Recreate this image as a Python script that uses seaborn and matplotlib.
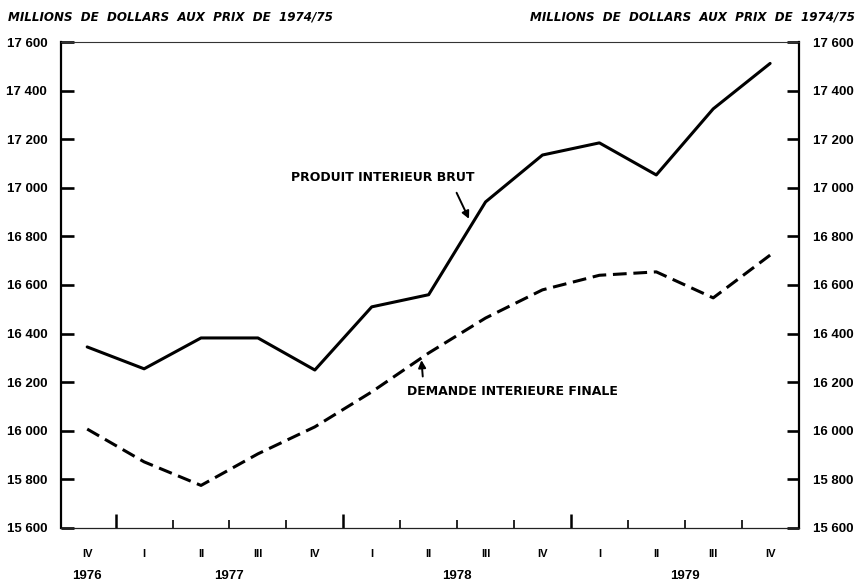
import numpy as np
import pandas as pd
import matplotlib
matplotlib.use('Agg')
import matplotlib.pyplot as plt
import seaborn as sns

# quarterly data, millions of 1974/75 dollars
quarters = ['IV', 'I', 'II', 'III', 'IV', 'I', 'II', 'III', 'IV', 'I', 'II', 'III', 'IV']
years = ['1976', '1977', '1978', '1979']
year_pos = [0, 2.5, 6.5, 10.5]
pib = [16345, 16255, 16382, 16382, 16250, 16510, 16560, 16942, 17135, 17185, 17053, 17325, 17512]
dif = [16007, 15872, 15775, 15905, 16016, 16160, 16320, 16464, 16580, 16640, 16654, 16547, 16723]
unit = 'MILLIONS  DE  DOLLARS  AUX  PRIX  DE  1974/75'

sns.set_style('white')
plt.rcParams['font.family'] = ['DejaVu Sans']
plt.rcParams['text.color'] = 'black'
plt.rcParams['xtick.color'] = 'black'
plt.rcParams['ytick.color'] = 'black'
narrow = ['Liberation Sans', 'DejaVu Sans']

df = pd.DataFrame({
    'x': list(range(len(quarters))) * 2,
    'val': pib + dif,
    'serie': ['PIB'] * len(pib) + ['DIF'] * len(dif),
})

fig = plt.figure(figsize=(8.63, 5.84), dpi=100)
ax = fig.add_axes([0.0707, 0.096, 0.8553, 0.832])

sns.lineplot(data=df, x='x', y='val', style='serie', color='black', linewidth=2.2,
             dashes={'PIB': '', 'DIF': (4.5, 2.2)}, legend=False, ax=ax)

ax.set_xlim(-0.46, 12.51)
ax.set_ylim(15600, 17600)
ax.set_xlabel('')
ax.set_ylabel('')

# y axis both sides
yt = list(range(15600, 17601, 200))
ax.set_yticks(yt)
ax.set_yticklabels([f'{v:,}'.replace(',', ' ') for v in yt])
ax.tick_params(axis='y', direction='in', length=9, width=1.9, left=True, right=True,
               labelleft=True, labelright=True, pad=10, labelsize=9.5, colors='black')
for lab in ax.get_yticklabels():
    lab.set_fontweight('bold')
    lab.set_family(narrow)

for s in ['left', 'right']:
    ax.spines[s].set_linewidth(1.6)
    ax.spines[s].set_color('black')
ax.spines['top'].set_linewidth(0.8)
ax.spines['top'].set_color('#333333')
ax.spines['bottom'].set_linewidth(0.9)
ax.spines['bottom'].set_color('#222222')

# x axis: year boundaries (long) + quarter separators (short)
ax.set_xticks([0.5, 4.5, 8.5])
ax.set_xticklabels([])
ax.set_xticks(np.arange(0.5, 12, 1), minor=True)
ax.tick_params(axis='x', which='major', direction='in', length=10, width=1.8, bottom=True, top=False)
ax.tick_params(axis='x', which='minor', direction='in', length=5.5, width=1.2, bottom=True, top=False)

qax = ax.secondary_xaxis('bottom')
qax.set_xticks(range(len(quarters)))
qax.set_xticklabels(quarters, fontsize=8, fontweight='bold', family=narrow)
qax.tick_params(length=0, pad=15, colors='black')
qax.spines['bottom'].set_visible(False)

yax = ax.secondary_xaxis('bottom')
yax.set_xticks(year_pos)
yax.set_xticklabels(years, fontsize=9.5, fontweight='bold', family=narrow)
yax.tick_params(length=0, pad=30, colors='black')
yax.spines['bottom'].set_visible(False)

# labels on the curves
ax.text(6.8, 17044, 'PRODUIT INTERIEUR BRUT', ha='right', va='center', fontsize=9, fontweight='bold')
ax.annotate('', xy=(6.73, 16862), xytext=(6.47, 16990),
            arrowprops=dict(arrowstyle='-|>', color='black', lw=1.4, mutation_scale=11))
ax.text(5.62, 16160, 'DEMANDE INTERIEURE FINALE', ha='left', va='center', fontsize=9, fontweight='bold')
ax.annotate('', xy=(5.87, 16302), xytext=(5.9, 16212),
            arrowprops=dict(arrowstyle='-|>', color='black', lw=1.4, mutation_scale=11))

fig.text(0.009, 0.971, unit, ha='left', va='center', fontsize=8.6, style='italic', fontweight='bold')
fig.text(0.991, 0.971, unit, ha='right', va='center', fontsize=8.6, style='italic', fontweight='bold')

fig.savefig('out.png', dpi=100)
